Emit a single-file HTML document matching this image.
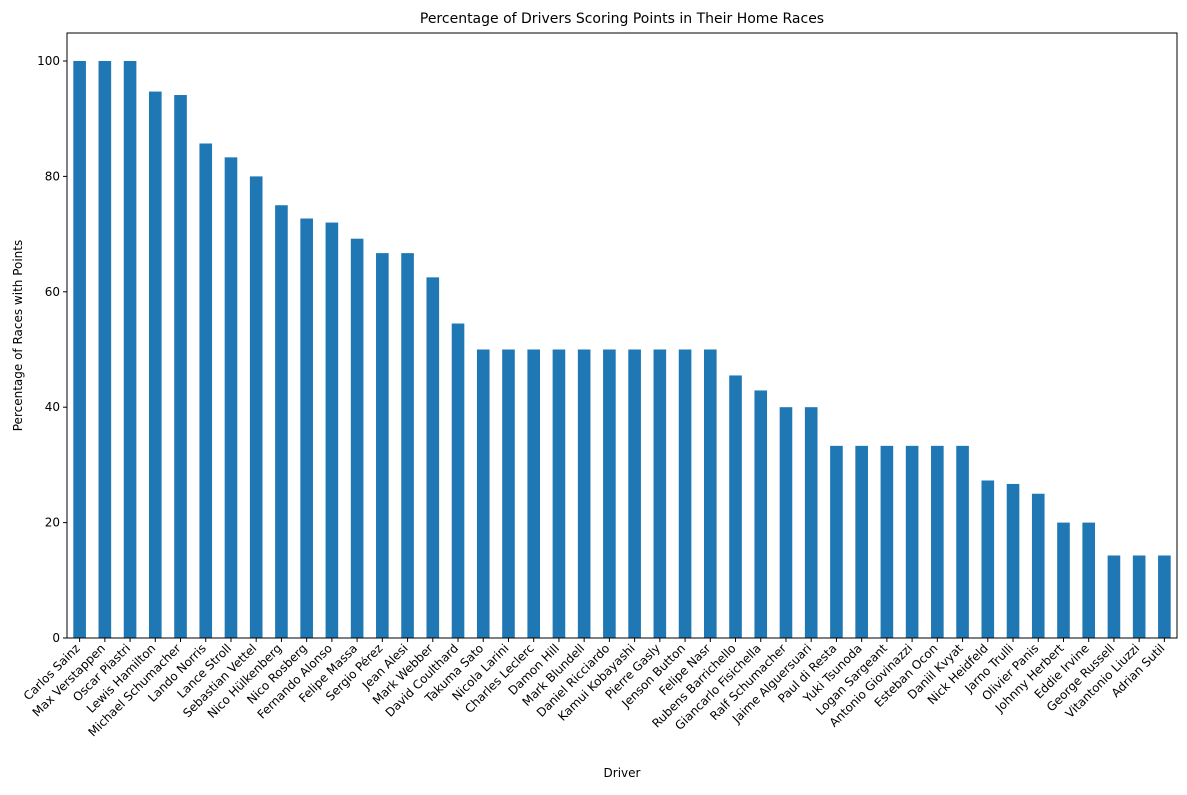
<!DOCTYPE html>
<html><head><meta charset="utf-8"><style>
body{margin:0;background:#fff;font-family:"Liberation Sans","DejaVu Sans",sans-serif}
</style></head><body>
<svg id="chart" width="1187" height="790" xmlns="http://www.w3.org/2000/svg" font-family="DejaVu Sans, Liberation Sans, sans-serif"></svg>
<script>
const drivers=["Carlos Sainz","Max Verstappen","Oscar Piastri","Lewis Hamilton","Michael Schumacher","Lando Norris","Lance Stroll","Sebastian Vettel","Nico Hülkenberg","Nico Rosberg","Fernando Alonso","Felipe Massa","Sergio Pérez","Jean Alesi","Mark Webber","David Coulthard","Takuma Sato","Nicola Larini","Charles Leclerc","Damon Hill","Mark Blundell","Daniel Ricciardo","Kamui Kobayashi","Pierre Gasly","Jenson Button","Felipe Nasr","Rubens Barrichello","Giancarlo Fisichella","Ralf Schumacher","Jaime Alguersuari","Paul di Resta","Yuki Tsunoda","Logan Sargeant","Antonio Giovinazzi","Esteban Ocon","Daniil Kvyat","Nick Heidfeld","Jarno Trulli","Olivier Panis","Johnny Herbert","Eddie Irvine","George Russell","Vitantonio Liuzzi","Adrian Sutil"];
const percentages=[100,100,100,94.7,94.1,85.7,83.3,80,75,72.7,72,69.2,66.7,66.7,62.5,54.5,50,50,50,50,50,50,50,50,50,50,45.5,42.9,40,40,33.3,33.3,33.3,33.3,33.3,33.3,27.3,26.7,25,20,20,14.3,14.3,14.3];
const yTicks=[0,20,40,60,80,100];
const NS="http://www.w3.org/2000/svg";
const svg=document.getElementById('chart');
const L=67,R=1177,T=33,B=638,yMax=104.85;
const step=(R-L)/drivers.length;
const x=i=>L+step*(i+0.5);
const y=v=>B-(v/yMax)*(B-T);
function el(tag,attrs,parent){const e=document.createElementNS(NS,tag);for(const k in attrs)e.setAttribute(k,attrs[k]);(parent||svg).appendChild(e);return e;}
percentages.forEach((v,i)=>{
 const r=el('rect',{x:x(i)-step*0.25,y:y(v),width:step*0.5,height:B-y(v),fill:'#1f77b4'});
 
 
});
const frame=el('rect',{x:L,y:T,width:R-L,height:B-T,fill:'none',stroke:'#000','stroke-width':1});


yTicks.forEach(t=>{
 el('line',{x1:L-4,x2:L,y1:y(t),y2:y(t),stroke:'#000'});
 const tx=el('text',{x:L-7,y:y(t)+4,'text-anchor':'end','font-size':12});
 tx.textContent=t;
 
 
});
drivers.forEach((d,i)=>{
 el('line',{x1:x(i),x2:x(i),y1:B,y2:B+4,stroke:'#000'});
 const tx=el('text',{transform:`translate(${x(i)+1},${B+11}) rotate(-45)`,'text-anchor':'end','font-size':12});
 tx.textContent=d;
 
 
});
const title=el('text',{x:(L+R)/2,y:23,'text-anchor':'middle','font-size':14});
title.textContent='Percentage of Drivers Scoring Points in Their Home Races';


const xt=el('text',{x:(L+R)/2,y:777,'text-anchor':'middle','font-size':12});
xt.textContent='Driver';


const yt=el('text',{transform:`translate(22,${(T+B)/2}) rotate(-90)`,'text-anchor':'middle','font-size':12});
yt.textContent='Percentage of Races with Points';


</script>
</body></html>
